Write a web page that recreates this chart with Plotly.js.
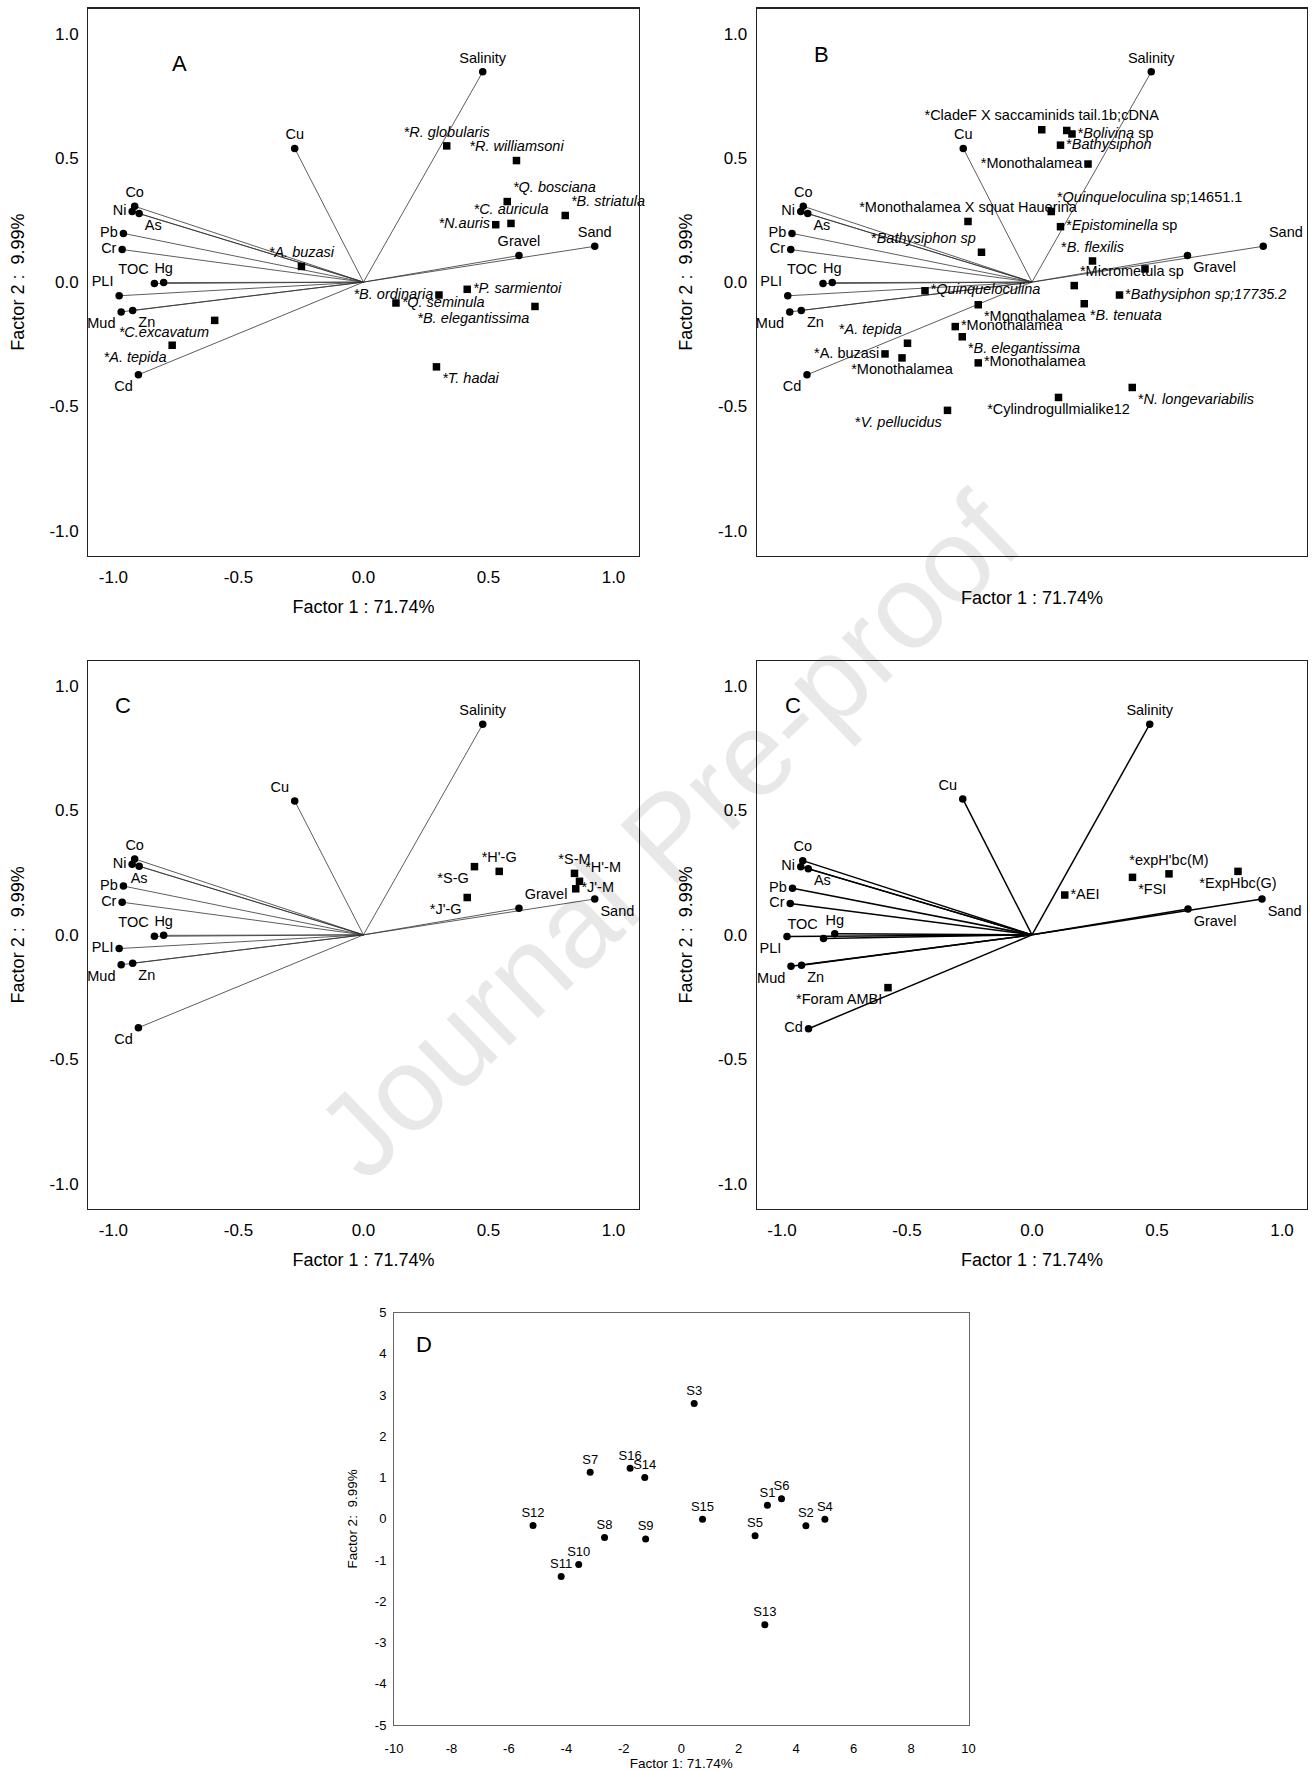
<!DOCTYPE html>
<html>
<head>
<meta charset="utf-8">
<script src="https://cdn.plot.ly/plotly-3.0.1.min.js"></script>
<style>html,body{margin:0;padding:0;background:#fff;}#chart{width:1312px;height:1771px;}</style>
</head>
<body>
<div id="chart"></div>
<script>
// ---------- DATA ----------
const envNames = ['Salinity','Cu','Co','Ni','As','Pb','Cr','TOC','Hg','PLI','Mud','Zn','Cd','Gravel','Sand'];
const envF1 = [0.477,-0.275,-0.915,-0.925,-0.897,-0.960,-0.965,-0.836,-0.799,-0.977,-0.969,-0.923,-0.900,0.622,0.925];
const envF2 = [0.846,0.538,0.305,0.284,0.276,0.196,0.131,-0.006,-0.002,-0.055,-0.120,-0.114,-0.373,0.107,0.144];
// panel 4 (indices) environmental loadings
const envF1b = [0.471,-0.277,-0.917,-0.925,-0.895,-0.958,-0.967,-0.834,-0.789,-0.980,-0.964,-0.922,-0.894,0.624,0.920];
const envF2b = [0.846,0.546,0.298,0.274,0.266,0.187,0.126,-0.015,0.004,-0.007,-0.126,-0.122,-0.377,0.104,0.144];

// Panel A species (morphology)
const spANames = ['*R. globularis','*R. williamsoni','*Q. bosciana','*B. striatula','*C. auricula','*N.auris','*A. buzasi','*B. ordinaria','*P. sarmientoi','*Q. seminula','*B. elegantissima','*T. hadai','*C.excavatum','*A. tepida'];
const spAF1 = [0.333,0.612,0.575,0.807,0.590,0.529,-0.248,0.302,0.415,0.130,0.686,0.292,-0.595,-0.765];
const spAF2 = [0.548,0.489,0.324,0.268,0.236,0.231,0.063,-0.052,-0.029,-0.084,-0.098,-0.341,-0.154,-0.254];

// Panel B species (eDNA)
const spBNames = ['*CladeF X saccaminids tail.1b;cDNA','','*<i>Bolivina</i> sp','*<i>Bathysiphon</i>','*Monothalamea','*<i>Quinqueloculina</i> sp;14651.1','*<i>Epistominella</i> sp','*Monothalamea X squat Hauerina','*<i>Bathysiphon sp</i>','*<i>B. flexilis</i>','','*Micrometula sp','*<i>Bathysiphon sp;17735.2</i>','*<i>B. tenuata</i>','*<i>Quinqueloculina</i>','*Monothalamea','*Monothalamea','*<i>B. elegantissima</i>','*<i>A. tepida</i>','*A. buzasi','*Monothalamea','*Monothalamea','*<i>V. pellucidus</i>','*Cylindrogullmialike12','*<i>N. longevariabilis</i>'];
const spBF1 = [0.039,0.139,0.160,0.114,0.224,0.077,0.114,-0.256,-0.202,0.242,0.452,0.169,0.350,0.209,-0.428,-0.215,-0.307,-0.279,-0.498,-0.588,-0.520,-0.215,-0.338,0.106,0.401];
const spBF2 = [0.613,0.610,0.596,0.551,0.475,0.284,0.223,0.244,0.120,0.085,0.053,-0.014,-0.052,-0.087,-0.035,-0.091,-0.179,-0.220,-0.246,-0.289,-0.305,-0.325,-0.516,-0.464,-0.424];

// Panel C diversity indices
const spCNames = ["*S-G","*H'-G","*J'-G","*S-M","*H'-M","*J'-M"];
const spCF1 = [0.444,0.543,0.415,0.844,0.864,0.849];
const spCF2 = [0.274,0.255,0.150,0.247,0.215,0.185];

// Panel C (second) biotic indices
const spC2Names = ['*AEI','*FSI',"*expH'bc(M)",'*ExpHbc(G)','*Foram AMBI'];
const spC2F1 = [0.131,0.402,0.548,0.824,-0.576];
const spC2F2 = [0.160,0.231,0.245,0.255,-0.212];

// Panel D stations
const stNames = ['S1','S2','S3','S4','S5','S6','S7','S8','S9','S10','S11','S12','S13','S14','S15','S16'];
const stF1 = [3.00,4.34,0.45,5.00,2.57,3.49,-3.17,-2.67,-1.24,-3.57,-4.18,-5.16,2.91,-1.27,0.74,-1.78];
const stF2 = [0.33,-0.17,2.80,-0.01,-0.41,0.49,1.13,-0.45,-0.49,-1.11,-1.40,-0.16,-2.57,1.00,-0.01,1.23];

const tickValsL = [-1,-0.5,0,0.5,1];
const tickTextL = ['-1.0','-0.5','0.0','0.5','1.0'];
const tickValsDX = [-10,-8,-6,-4,-2,0,2,4,6,8,10];
const tickTextDX = ['-10','-8','-6','-4','-2','0','2','4','6','8','10'];
const tickValsDY = [-5,-4,-3,-2,-1,0,1,2,3,4,5];
const tickTextDY = ['-5','-4','-3','-2','-1','0','1','2','3','4','5'];

// ---------- STYLE (label placement) ----------
const envPosA = ['top center','top center','top center','middle left','bottom right','middle left','middle left','top left','top center','top left','bottom left','bottom right','bottom left','top center','top center'];
const envPosB = ['top center','top center','top center','middle left','bottom right','middle left','middle left','top left','top center','top left','bottom left','bottom right','bottom left','bottom right','top right'];
const envPosC = ['top center','top left','top center','middle left','bottom center','middle left','middle left','top left','top center','middle left','bottom left','bottom right','bottom left','top right','bottom right'];
const envPosC2 = ['top center','top left','top center','middle left','bottom right','middle left','middle left','top left','top center','bottom left','bottom left','bottom right','middle left','bottom right','bottom right'];
const spAPos = ['top center','top center','top right','top right','top center','middle left','top center','middle left','middle right','middle right','bottom left','bottom right','bottom left','bottom left'];
const spBPos = ['top center','middle right','middle right','middle right','middle left','top right','middle right','top center','top left','top center','middle right','top right','middle right','bottom right','middle right','bottom right','middle right','bottom right','top left','middle left','bottom center','middle right','bottom left','bottom center','bottom right'];
const spCPos = ['bottom left','top center','bottom left','top center','top right','middle right'];
const spC2Pos = ['middle right','bottom right','top center','bottom center','bottom left'];

const FONT = 'Liberation Sans, Arial, sans-serif';
const labFont = {family: FONT, size: 14.5, color: '#000'};

function vectorLines(F1, F2, xa, ya, w, c) {
  const x = [], y = [];
  for (let i = 0; i < F1.length; i++) { x.push(0, F1[i], null); y.push(0, F2[i], null); }
  return {type:'scatter', mode:'lines', x, y, xaxis:xa, yaxis:ya, line:{color:c, width:w}, hoverinfo:'skip'};
}
function pts(F1, F2, names, pos, xa, ya, symbol, italic) {
  return {type:'scatter', mode:'markers+text', x:F1, y:F2,
    text: names.map(n => italic && n ? '<i>' + n + '</i>' : n),
    textposition: pos, textfont: labFont, xaxis:xa, yaxis:ya,
    marker:{symbol, size:7.5, color:'#000', line:{width:0}}, hoverinfo:'skip', cliponaxis:false};
}

const traces = [
  vectorLines(envF1, envF2, 'x', 'y', 0.8, '#333'),
  pts(envF1, envF2, envNames, envPosA, 'x', 'y', 'circle', false),
  pts(spAF1, spAF2, spANames, spAPos, 'x', 'y', 'square', true),

  vectorLines(envF1, envF2, 'x2', 'y2', 0.8, '#333'),
  pts(envF1, envF2, envNames, envPosB, 'x2', 'y2', 'circle', false),
  pts(spBF1, spBF2, spBNames, spBPos, 'x2', 'y2', 'square', false),

  vectorLines(envF1, envF2, 'x3', 'y3', 0.8, '#333'),
  pts(envF1, envF2, envNames, envPosC, 'x3', 'y3', 'circle', false),
  pts(spCF1, spCF2, spCNames, spCPos, 'x3', 'y3', 'square', false),

  vectorLines(envF1b, envF2b, 'x4', 'y4', 1.5, '#000'),
  pts(envF1b, envF2b, envNames, envPosC2, 'x4', 'y4', 'circle', false),
  pts(spC2F1, spC2F2, spC2Names, spC2Pos, 'x4', 'y4', 'square', false),

  {type:'scatter', mode:'markers+text', x:stF1, y:stF2, text:stNames, textposition:'top center',
   textfont:{family:FONT, size:13, color:'#000'}, xaxis:'x5', yaxis:'y5',
   marker:{symbol:'circle', size:7, color:'#000'}, hoverinfo:'skip', cliponaxis:false}
];

const W = 1312, H = 1771;
const dx = (a, b) => [a / W, b / W];
const dy = (top, bot) => [1 - bot / H, 1 - top / H];

function loadAxisX(domain, anchor, showLabels, titleStandoff) {
  return {domain, anchor, range:[-1.1, 1.1], tickmode:'array', tickvals:tickValsL, ticktext:tickTextL,
    showticklabels: showLabels, ticks:'', ticklabelstandoff: 6,
    tickfont:{family:FONT, size:17, color:'#000'},
    showgrid:false, zeroline:false, showline:true, mirror:true, linecolor:'#222', linewidth:1.3,
    title:{text:'Factor 1 : 71.74%', font:{family:FONT, size:18, color:'#000'}, standoff:titleStandoff}, automargin:false};
}
function loadAxisY(domain, anchor) {
  return {domain, anchor, range:[-1.1, 1.1], tickmode:'array', tickvals:tickValsL, ticktext:tickTextL,
    ticks:'', ticklabelstandoff: 5, tickfont:{family:FONT, size:17, color:'#000'},
    showgrid:false, zeroline:false, showline:true, mirror:true, linecolor:'#222', linewidth:1.3,
    title:{text:'Factor 2 :  9.99%', font:{family:FONT, size:18, color:'#000'}, standoff:20}, automargin:false};
}

const letter = (t, xr, yr, x, y) => ({text:t, xref:xr + ' domain', yref:yr + ' domain', x, y,
  showarrow:false, font:{family:FONT, size:22, color:'#000'}, xanchor:'center', yanchor:'middle'});

const layout = {
  width: W, height: H, margin:{l:0, r:0, t:0, b:0},
  paper_bgcolor:'#fff', plot_bgcolor:'#fff', showlegend:false,
  xaxis: loadAxisX(dx(88.4, 638.5), 'y', true, 14),
  yaxis: loadAxisY(dy(8.7, 555.5), 'x'),
  xaxis2: loadAxisX(dx(757, 1307), 'y2', false, 35),
  yaxis2: loadAxisY(dy(8.7, 555.5), 'x2'),
  xaxis3: loadAxisX(dx(88.4, 638.5), 'y3', true, 14),
  yaxis3: loadAxisY(dy(661, 1208.7), 'x3'),
  xaxis4: loadAxisX(dx(757, 1307), 'y4', true, 14),
  yaxis4: loadAxisY(dy(661, 1208.7), 'x4'),
  xaxis5: {domain: dx(394, 968.5), anchor:'y5', range:[-10, 10], tickmode:'array', tickvals:tickValsDX, ticktext:tickTextDX,
    ticks:'', ticklabelstandoff:11, tickfont:{family:FONT, size:13, color:'#000'},
    showgrid:false, zeroline:false, showline:true, mirror:true, linecolor:'#666', linewidth:1,
    title:{text:'Factor 1: 71.74%', font:{family:FONT, size:13.5, color:'#000'}, standoff:3}, automargin:false},
  yaxis5: {domain: dy(1312.7, 1725), anchor:'x5', range:[-5, 5], tickmode:'array', tickvals:tickValsDY, ticktext:tickTextDY,
    ticks:'', ticklabelstandoff:4, tickfont:{family:FONT, size:13, color:'#000'},
    showgrid:false, zeroline:false, showline:true, mirror:true, linecolor:'#666', linewidth:1,
    title:{text:'Factor 2:  9.99%', font:{family:FONT, size:13.5, color:'#000'}, standoff:14}, automargin:false},
  annotations: [
    letter('A', 'x', 'y', 0.1665, 0.899),
    letter('B', 'x2', 'y2', 0.118, 0.917),
    letter('C', 'x3', 'y3', 0.063, 0.919),
    letter('C', 'x4', 'y4', 0.065, 0.918),
    letter('D', 'x5', 'y5', 0.053, 0.922),
    {text:'Journal Pre-proof', xref:'paper', yref:'paper', x:0.509, y:0.528, showarrow:false,
     textangle:-44, font:{family:FONT, size:119, color:'rgba(0,0,0,0.09)'}, xanchor:'center', yanchor:'middle'}
  ]
};

Plotly.newPlot('chart', traces, layout, {staticPlot:true, displayModeBar:false});
</script>
</body>
</html>
